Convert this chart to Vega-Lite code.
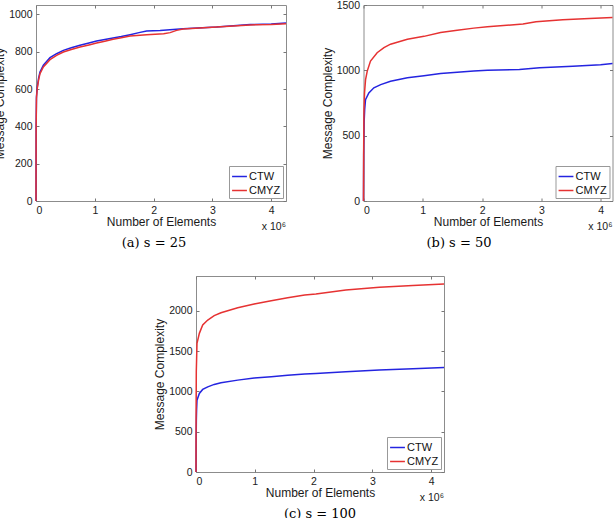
{
  "$schema": "https://vega.github.io/schema/vega-lite/v6.json",
  "background": "white",
  "padding": {"left": -7, "top": -1, "right": 0, "bottom": 0},
  "config": {
    "font": "Liberation Sans",
    "view": {"stroke": "#8c8c8c", "strokeWidth": 1},
    "axis": {
      "grid": false,
      "domain": false,
      "labelFont": "Liberation Sans",
      "labelFontSize": 10.5,
      "labelColor": "#1a1a1a",
      "titleFont": "Liberation Sans",
      "titleFontSize": 12,
      "titleFontWeight": "normal",
      "titleColor": "#1a1a1a",
      "tickColor": "#777",
      "tickSize": -3,
      "labelPadding": 7
    },
    "legend": {
      "orient": "bottom-right",
      "offset": 3,
      "symbolType": "stroke",
      "symbolSize": 220,
      "symbolStrokeWidth": 1.5,
      "labelFont": "Liberation Sans",
      "labelFontSize": 11,
      "labelColor": "#111",
      "labelOffset": 1,
      "strokeColor": "#999",
      "fillColor": "white",
      "padding": 2,
      "rowPadding": -3,
      "cornerRadius": 0
    },
    "title": {
      "orient": "bottom",
      "anchor": "middle",
      "font": "DejaVu Serif",
      "fontSize": 13,
      "fontWeight": "normal",
      "color": "#000"
    }
  },
  "datasets": {
    "s25": [
      {"n": 0, "m": 0, "alg": "CTW"},
      {"n": 2000, "m": 400, "alg": "CTW"},
      {"n": 8000, "m": 560, "alg": "CTW"},
      {"n": 22000, "m": 611, "alg": "CTW"},
      {"n": 45000, "m": 660, "alg": "CTW"},
      {"n": 68000, "m": 691, "alg": "CTW"},
      {"n": 125000, "m": 727, "alg": "CTW"},
      {"n": 238000, "m": 768, "alg": "CTW"},
      {"n": 350000, "m": 789, "alg": "CTW"},
      {"n": 465000, "m": 807, "alg": "CTW"},
      {"n": 600000, "m": 821, "alg": "CTW"},
      {"n": 748000, "m": 834, "alg": "CTW"},
      {"n": 900000, "m": 846, "alg": "CTW"},
      {"n": 1030000, "m": 857, "alg": "CTW"},
      {"n": 1170000, "m": 865, "alg": "CTW"},
      {"n": 1310000, "m": 873, "alg": "CTW"},
      {"n": 1450000, "m": 881, "alg": "CTW"},
      {"n": 1600000, "m": 891, "alg": "CTW"},
      {"n": 1750000, "m": 902, "alg": "CTW"},
      {"n": 1880000, "m": 911, "alg": "CTW"},
      {"n": 2110000, "m": 914, "alg": "CTW"},
      {"n": 2500000, "m": 923, "alg": "CTW"},
      {"n": 3070000, "m": 932, "alg": "CTW"},
      {"n": 3640000, "m": 945, "alg": "CTW"},
      {"n": 4000000, "m": 948, "alg": "CTW"},
      {"n": 4250000, "m": 954, "alg": "CTW"},
      {"n": 0, "m": 0, "alg": "CMYZ"},
      {"n": 2000, "m": 380, "alg": "CMYZ"},
      {"n": 8000, "m": 550, "alg": "CMYZ"},
      {"n": 22000, "m": 605, "alg": "CMYZ"},
      {"n": 45000, "m": 650, "alg": "CMYZ"},
      {"n": 68000, "m": 682, "alg": "CMYZ"},
      {"n": 125000, "m": 718, "alg": "CMYZ"},
      {"n": 238000, "m": 757, "alg": "CMYZ"},
      {"n": 350000, "m": 780, "alg": "CMYZ"},
      {"n": 465000, "m": 798, "alg": "CMYZ"},
      {"n": 600000, "m": 812, "alg": "CMYZ"},
      {"n": 748000, "m": 825, "alg": "CMYZ"},
      {"n": 900000, "m": 836, "alg": "CMYZ"},
      {"n": 1030000, "m": 846, "alg": "CMYZ"},
      {"n": 1170000, "m": 856, "alg": "CMYZ"},
      {"n": 1310000, "m": 866, "alg": "CMYZ"},
      {"n": 1450000, "m": 875, "alg": "CMYZ"},
      {"n": 1600000, "m": 884, "alg": "CMYZ"},
      {"n": 1880000, "m": 891, "alg": "CMYZ"},
      {"n": 2170000, "m": 896, "alg": "CMYZ"},
      {"n": 2280000, "m": 902, "alg": "CMYZ"},
      {"n": 2390000, "m": 914, "alg": "CMYZ"},
      {"n": 2500000, "m": 921, "alg": "CMYZ"},
      {"n": 3070000, "m": 932, "alg": "CMYZ"},
      {"n": 3640000, "m": 943, "alg": "CMYZ"},
      {"n": 4000000, "m": 946, "alg": "CMYZ"},
      {"n": 4250000, "m": 950, "alg": "CMYZ"}
    ],
    "s50": [
      {"n": 0, "m": 0, "alg": "CTW"},
      {"n": 3000, "m": 350, "alg": "CTW"},
      {"n": 10000, "m": 600, "alg": "CTW"},
      {"n": 20000, "m": 700, "alg": "CTW"},
      {"n": 34000, "m": 776, "alg": "CTW"},
      {"n": 90000, "m": 827, "alg": "CTW"},
      {"n": 175000, "m": 866, "alg": "CTW"},
      {"n": 290000, "m": 891, "alg": "CTW"},
      {"n": 456000, "m": 917, "alg": "CTW"},
      {"n": 740000, "m": 943, "alg": "CTW"},
      {"n": 1020000, "m": 959, "alg": "CTW"},
      {"n": 1300000, "m": 976, "alg": "CTW"},
      {"n": 1580000, "m": 986, "alg": "CTW"},
      {"n": 1860000, "m": 994, "alg": "CTW"},
      {"n": 2090000, "m": 1001, "alg": "CTW"},
      {"n": 2630000, "m": 1007, "alg": "CTW"},
      {"n": 2970000, "m": 1020, "alg": "CTW"},
      {"n": 3530000, "m": 1032, "alg": "CTW"},
      {"n": 4000000, "m": 1043, "alg": "CTW"},
      {"n": 4200000, "m": 1052, "alg": "CTW"},
      {"n": 0, "m": 0, "alg": "CMYZ"},
      {"n": 3000, "m": 400, "alg": "CMYZ"},
      {"n": 8000, "m": 700, "alg": "CMYZ"},
      {"n": 17000, "m": 827, "alg": "CMYZ"},
      {"n": 35000, "m": 930, "alg": "CMYZ"},
      {"n": 63000, "m": 994, "alg": "CMYZ"},
      {"n": 118000, "m": 1071, "alg": "CMYZ"},
      {"n": 230000, "m": 1135, "alg": "CMYZ"},
      {"n": 345000, "m": 1174, "alg": "CMYZ"},
      {"n": 456000, "m": 1200, "alg": "CMYZ"},
      {"n": 740000, "m": 1238, "alg": "CMYZ"},
      {"n": 1020000, "m": 1260, "alg": "CMYZ"},
      {"n": 1300000, "m": 1290, "alg": "CMYZ"},
      {"n": 1580000, "m": 1307, "alg": "CMYZ"},
      {"n": 1860000, "m": 1323, "alg": "CMYZ"},
      {"n": 2090000, "m": 1333, "alg": "CMYZ"},
      {"n": 2690000, "m": 1354, "alg": "CMYZ"},
      {"n": 2910000, "m": 1372, "alg": "CMYZ"},
      {"n": 3360000, "m": 1387, "alg": "CMYZ"},
      {"n": 3810000, "m": 1397, "alg": "CMYZ"},
      {"n": 4200000, "m": 1405, "alg": "CMYZ"}
    ],
    "s100": [
      {"n": 0, "m": 0, "alg": "CTW"},
      {"n": 2000, "m": 350, "alg": "CTW"},
      {"n": 6000, "m": 650, "alg": "CTW"},
      {"n": 10000, "m": 766, "alg": "CTW"},
      {"n": 17000, "m": 891, "alg": "CTW"},
      {"n": 57000, "m": 974, "alg": "CTW"},
      {"n": 114000, "m": 1024, "alg": "CTW"},
      {"n": 200000, "m": 1056, "alg": "CTW"},
      {"n": 310000, "m": 1086, "alg": "CTW"},
      {"n": 425000, "m": 1106, "alg": "CTW"},
      {"n": 710000, "m": 1139, "alg": "CTW"},
      {"n": 990000, "m": 1165, "alg": "CTW"},
      {"n": 1280000, "m": 1180, "alg": "CTW"},
      {"n": 1560000, "m": 1198, "alg": "CTW"},
      {"n": 1850000, "m": 1214, "alg": "CTW"},
      {"n": 2040000, "m": 1222, "alg": "CTW"},
      {"n": 2550000, "m": 1242, "alg": "CTW"},
      {"n": 3120000, "m": 1265, "alg": "CTW"},
      {"n": 3690000, "m": 1280, "alg": "CTW"},
      {"n": 4220000, "m": 1295, "alg": "CTW"},
      {"n": 0, "m": 0, "alg": "CMYZ"},
      {"n": 2000, "m": 800, "alg": "CMYZ"},
      {"n": 5000, "m": 1250, "alg": "CMYZ"},
      {"n": 10000, "m": 1388, "alg": "CMYZ"},
      {"n": 17000, "m": 1595, "alg": "CMYZ"},
      {"n": 57000, "m": 1719, "alg": "CMYZ"},
      {"n": 114000, "m": 1822, "alg": "CMYZ"},
      {"n": 200000, "m": 1884, "alg": "CMYZ"},
      {"n": 310000, "m": 1938, "alg": "CMYZ"},
      {"n": 425000, "m": 1975, "alg": "CMYZ"},
      {"n": 710000, "m": 2037, "alg": "CMYZ"},
      {"n": 990000, "m": 2083, "alg": "CMYZ"},
      {"n": 1280000, "m": 2124, "alg": "CMYZ"},
      {"n": 1560000, "m": 2161, "alg": "CMYZ"},
      {"n": 1850000, "m": 2195, "alg": "CMYZ"},
      {"n": 2040000, "m": 2207, "alg": "CMYZ"},
      {"n": 2550000, "m": 2257, "alg": "CMYZ"},
      {"n": 3120000, "m": 2290, "alg": "CMYZ"},
      {"n": 3690000, "m": 2311, "alg": "CMYZ"},
      {"n": 4220000, "m": 2332, "alg": "CMYZ"}
    ],
    "multiplier": [{"lbl": "x 10⁶"}],
    "blank": [{"lbl": ""}]
  },
  "spacing": 20,
  "resolve": {
    "scale": {"x": "independent", "y": "independent", "color": "independent"},
    "legend": {"color": "independent"}
  },
  "vconcat": [
    {
      "spacing": 30.5,
      "resolve": {
        "scale": {"x": "independent", "y": "independent", "color": "independent"},
        "legend": {"color": "independent"}
      },
      "hconcat": [
        {
          "width": 250,
          "height": 196,
          "title": {"text": "(a) s = 25", "offset": 4, "dx": -7},
          "resolve": {"axis": {"x": "independent", "y": "independent"}},
          "layer": [
            {
              "data": {"name": "s25"},
              "mark": {"type": "line", "strokeWidth": 1.5},
              "encoding": {
                "x": {"field": "n", "type": "quantitative",
                      "scale": {"domain": [0, 4250000], "nice": false},
                      "axis": {"orient": "bottom", "title": "Number of Elements", "titlePadding": 1,
                               "values": [0, 1000000, 2000000, 3000000, 4000000],
                               "labelExpr": "format(datum.value / 1000000, 'd')"}},
                "y": {"field": "m", "type": "quantitative",
                      "scale": {"domain": [0, 1050], "nice": false},
                      "axis": {"orient": "left", "title": "Message Complexity", "titlePadding": 2, "format": "d",
                               "values": [0, 200, 400, 600, 800, 1000]}},
                "color": {"field": "alg", "type": "nominal",
                          "scale": {"domain": ["CTW", "CMYZ"], "range": ["#2424e0", "#e63232"]},
                          "legend": {"title": null}}
              }
            },
            {
              "data": {"name": "multiplier"},
              "mark": {"type": "text", "align": "right", "baseline": "middle", "dy": 26, "fontSize": 10.5, "font": "Liberation Sans", "color": "#1a1a1a"},
              "encoding": {
                "x": {"datum": 4250000, "type": "quantitative",
                      "axis": {"orient": "top", "labels": false, "title": null, "values": [0, 1000000, 2000000, 3000000, 4000000]}},
                "y": {"datum": 0, "type": "quantitative",
                      "axis": {"orient": "right", "labels": false, "title": null, "values": [0, 200, 400, 600, 800, 1000]}},
                "text": {"field": "lbl"}
              }
            }
          ]
        },
        {
          "width": 249,
          "height": 196,
          "title": {"text": "(b) s = 50", "offset": 4, "dx": -29},
          "resolve": {"axis": {"x": "independent", "y": "independent"}},
          "layer": [
            {
              "data": {"name": "s50"},
              "mark": {"type": "line", "strokeWidth": 1.5},
              "encoding": {
                "x": {"field": "n", "type": "quantitative",
                      "scale": {"domain": [0, 4200000], "nice": false},
                      "axis": {"orient": "bottom", "title": "Number of Elements", "titlePadding": 1,
                               "values": [0, 1000000, 2000000, 3000000, 4000000],
                               "labelExpr": "format(datum.value / 1000000, 'd')"}},
                "y": {"field": "m", "type": "quantitative",
                      "scale": {"domain": [0, 1500], "nice": false},
                      "axis": {"orient": "left", "title": "Message Complexity", "titlePadding": 2, "format": "d",
                               "values": [0, 500, 1000, 1500]}},
                "color": {"field": "alg", "type": "nominal",
                          "scale": {"domain": ["CTW", "CMYZ"], "range": ["#2424e0", "#e63232"]},
                          "legend": {"title": null}}
              }
            },
            {
              "data": {"name": "multiplier"},
              "mark": {"type": "text", "align": "right", "baseline": "middle", "dy": 26, "fontSize": 10.5, "font": "Liberation Sans", "color": "#1a1a1a"},
              "encoding": {
                "x": {"datum": 4200000, "type": "quantitative",
                      "axis": {"orient": "top", "labels": false, "title": null, "values": [0, 1000000, 2000000, 3000000, 4000000]}},
                "y": {"datum": 0, "type": "quantitative",
                      "axis": {"orient": "right", "labels": false, "title": null, "values": [0, 500, 1000, 1500]}},
                "text": {"field": "lbl"}
              }
            }
          ]
        }
      ]
    },
    {
      "spacing": 0,
      "resolve": {
        "scale": {"x": "independent", "y": "independent", "color": "independent"},
        "legend": {"color": "independent"}
      },
      "hconcat": [
        {
          "width": 117,
          "height": 1,
          "view": {"stroke": null},
          "data": {"name": "blank"},
          "mark": {"type": "text", "opacity": 0},
          "encoding": {"text": {"field": "lbl"}}
        },
        {
          "width": 248,
          "height": 196,
          "title": {"text": "(c) s = 100", "offset": 4, "dx": 0},
          "resolve": {"axis": {"x": "independent", "y": "independent"}},
          "layer": [
            {
              "data": {"name": "s100"},
              "mark": {"type": "line", "strokeWidth": 1.5},
              "encoding": {
                "x": {"field": "n", "type": "quantitative",
                      "scale": {"domain": [0, 4220000], "nice": false},
                      "axis": {"orient": "bottom", "title": "Number of Elements", "titlePadding": 1,
                               "values": [0, 1000000, 2000000, 3000000, 4000000],
                               "labelExpr": "format(datum.value / 1000000, 'd')"}},
                "y": {"field": "m", "type": "quantitative",
                      "scale": {"domain": [0, 2430], "nice": false},
                      "axis": {"orient": "left", "title": "Message Complexity", "titlePadding": 2, "format": "d",
                               "values": [0, 500, 1000, 1500, 2000]}},
                "color": {"field": "alg", "type": "nominal",
                          "scale": {"domain": ["CTW", "CMYZ"], "range": ["#2424e0", "#e63232"]},
                          "legend": {"title": null}}
              }
            },
            {
              "data": {"name": "multiplier"},
              "mark": {"type": "text", "align": "right", "baseline": "middle", "dy": 26, "fontSize": 10.5, "font": "Liberation Sans", "color": "#1a1a1a"},
              "encoding": {
                "x": {"datum": 4220000, "type": "quantitative",
                      "axis": {"orient": "top", "labels": false, "title": null, "values": [0, 1000000, 2000000, 3000000, 4000000]}},
                "y": {"datum": 0, "type": "quantitative",
                      "axis": {"orient": "right", "labels": false, "title": null, "values": [0, 500, 1000, 1500, 2000]}},
                "text": {"field": "lbl"}
              }
            }
          ]
        }
      ]
    }
  ]
}
